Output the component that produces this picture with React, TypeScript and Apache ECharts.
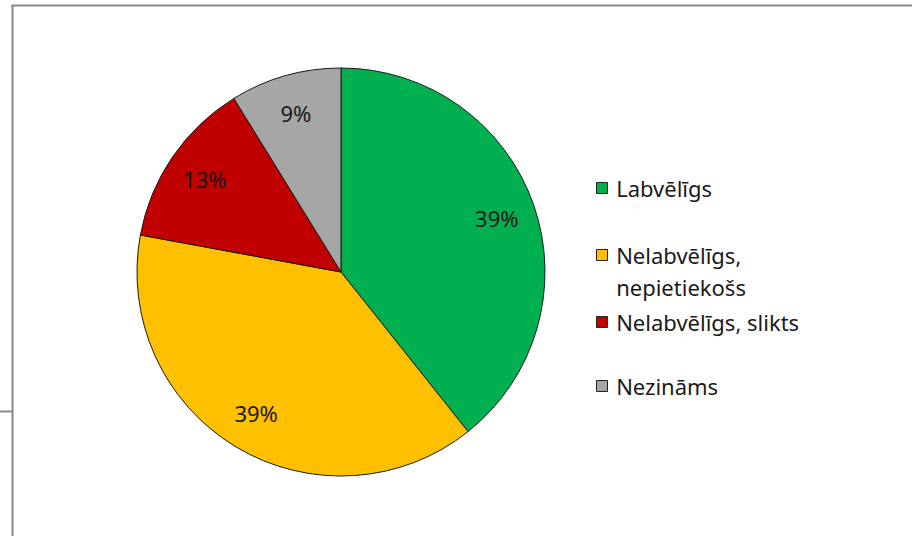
import React, { useEffect, useRef } from "react";
import * as echarts from "echarts";

const categories = ["Labvēlīgs", "Nelabvēlīgs, nepietiekošs", "Nelabvēlīgs, slikts", "Nezināms"];
const values = [39.3, 38.6, 13.3, 8.8];
const labels = ["39%", "39%", "13%", "9%"];
const colors = ["#00B050", "#FFC000", "#C00000", "#A6A6A6"];
const legendTops = [172, 207, 306, 370];

export default function App() {
  const ref = useRef<HTMLDivElement>(null);
  useEffect(() => {
    if (!ref.current) return;
    const chart = echarts.init(ref.current, null, { renderer: "svg" });
    const data = categories.map((name, i) => ({ name, value: values[i], itemStyle: { color: colors[i] } }));
    const font = "Noto Sans";
    chart.setOption({
      animation: false,
      backgroundColor: "#ffffff",
      legend: categories.map((name, i) => ({
        data: [name],
        orient: "vertical",
        left: 596,
        top: legendTops[i],
        icon: "rect",
        itemWidth: 11,
        itemHeight: 11,
        itemGap: 0,
        padding: 0,
        selectedMode: false,
        formatter: (n: string) =>
          n === "Nelabvēlīgs, nepietiekošs" ? " \n\u2009Nelabvēlīgs,\n\u2009nepietiekošs" : "\u2009" + n,
        textStyle: {
          fontFamily: font,
          fontSize: 22,
          color: "#1a1a1a",
          lineHeight: 32,
        },
        itemStyle: { borderColor: "#222", borderWidth: 1 },
      })),
      graphic: [
        { type: "line", shape: { x1: 12.5, y1: 5, x2: 12.5, y2: 536 }, style: { stroke: "#888", lineWidth: 2 } },
        { type: "line", shape: { x1: 11.5, y1: 5.5, x2: 912, y2: 5.5 }, style: { stroke: "#888", lineWidth: 2 } },
        { type: "line", shape: { x1: 0, y1: 411.5, x2: 12, y2: 411.5 }, style: { stroke: "#888", lineWidth: 2 } },
      ],
      series: [
        {
          type: "pie",
          center: [341, 272],
          radius: [0, 204],
          startAngle: 90,
          clockwise: true,
          label: { show: false },
          labelLine: { show: false },
          itemStyle: { borderColor: "#1a1a1a", borderWidth: 1 },
          emphasis: { disabled: true },
          data,
        },
        {
          type: "pie",
          center: [341, 272],
          radius: [120, 204],
          startAngle: 90,
          clockwise: true,
          silent: true,
          legendHoverLink: false,
          itemStyle: { color: "rgba(0,0,0,0)", borderWidth: 0 },
          label: {
            show: true,
            position: "inside",
            fontFamily: font,
            fontSize: 22,
            color: "#1a1a1a",
            formatter: (p: any) => labels[p.dataIndex],
          },
          labelLine: { show: false },
          emphasis: { disabled: true },
          data: categories.map((name, i) => ({ name: name + " ", value: values[i] })),
        },
      ],
    });
    return () => chart.dispose();
  }, []);
  return <div ref={ref} style={{ position: "absolute", left: 0, top: 0, width: 912, height: 536 }} />;
}
